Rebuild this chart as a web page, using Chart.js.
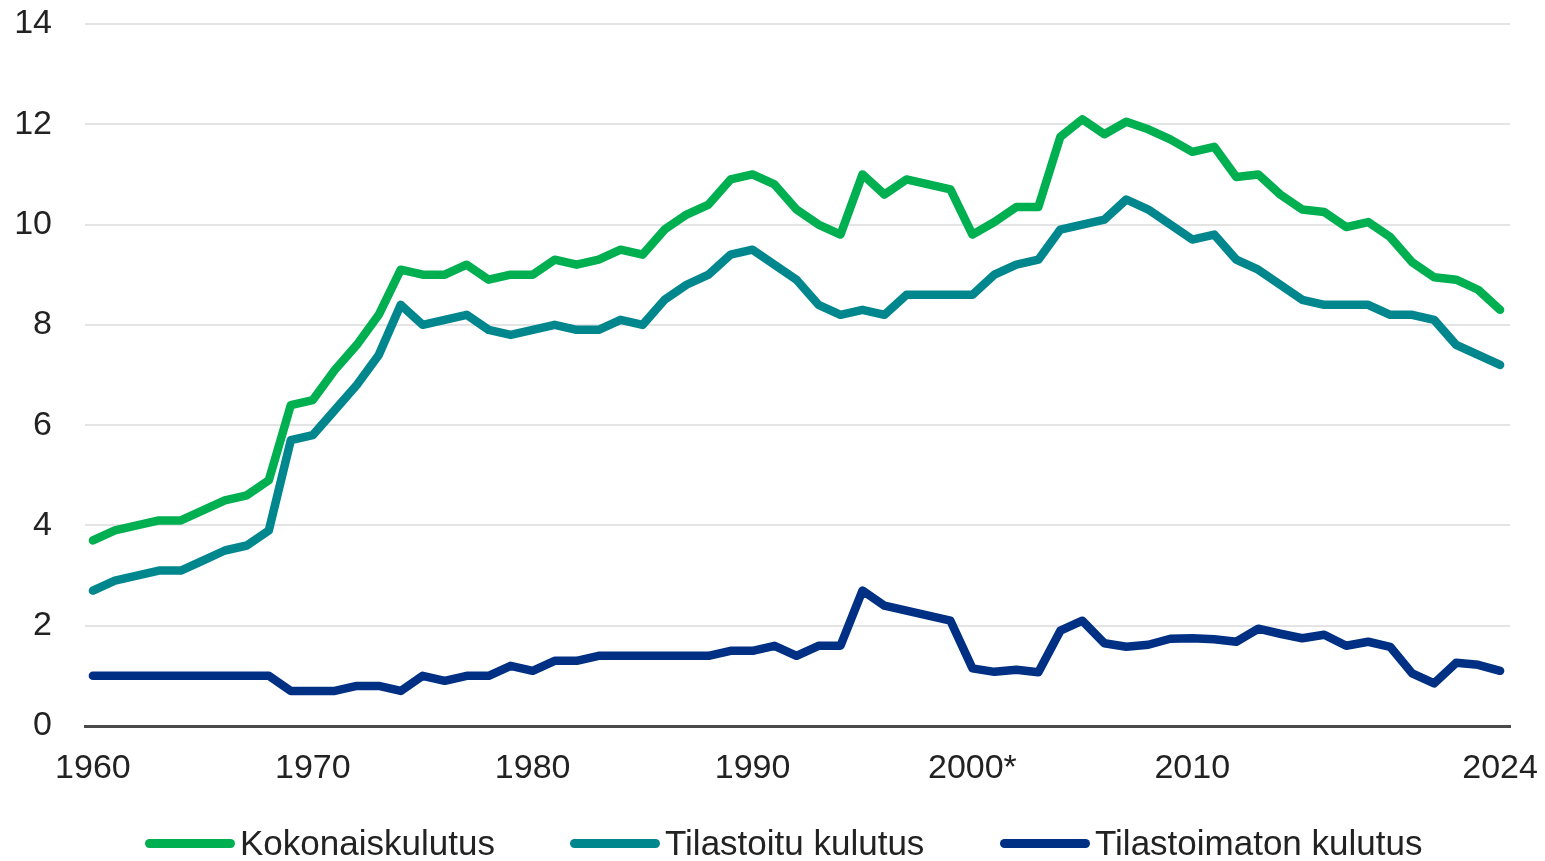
<!DOCTYPE html>
<html><head><meta charset="utf-8">
<script src="https://cdn.jsdelivr.net/npm/chart.js@4.4.1/dist/chart.umd.min.js"></script>
<style>
html,body{margin:0;padding:0;background:#fff;}
#wrap{position:relative;width:1545px;height:861px;overflow:hidden;}
canvas{position:absolute;left:0;top:0;}
.lg{position:absolute;top:822px;height:42px;display:flex;align-items:center;font-family:'Liberation Sans',Arial,sans-serif;font-size:35px;color:#222;white-space:nowrap;}
.lg i{display:inline-block;width:90px;height:9px;border-radius:5px;margin-right:5px;}
</style>
</head><body>
<div id="wrap">
<canvas id="c" width="1545" height="861"></canvas>
<div class="lg" style="left:145px"><i style="background:#00AF50"></i>Kokonaiskulutus</div>
<div class="lg" style="left:570px"><i style="background:#00878E"></i>Tilastoitu kulutus</div>
<div class="lg" style="left:1000px"><i style="background:#003084"></i>Tilastoimaton kulutus</div>
</div>
<script>
const years = [1960,1961,1962,1963,1964,1965,1966,1967,1968,1969,
1970,1971,1972,1973,1974,1975,1976,1977,1978,1979,
1980,1981,1982,1983,1984,1985,1986,1987,1988,1989,
1990,1991,1992,1993,1994,1995,1996,1997,1998,1999,
2000,2001,2002,2003,2004,2005,2006,2007,2008,2009,
2010,2011,2012,2013,2014,2015,2016,2017,2018,2019,
2020,2021,2022,2023,2024];

const kokonaiskulutus = [3.7,3.9,4.0,4.1,4.1,4.3,4.5,4.6,4.9,6.4,
6.5,7.1,7.6,8.2,9.1,9.0,9.0,9.2,8.9,9.0,
9.0,9.3,9.2,9.3,9.5,9.4,9.9,10.2,10.4,10.9,
11.0,10.8,10.3,10.0,9.8,11.0,10.6,10.9,10.8,10.7,
9.8,10.05,10.35,10.35,11.75,12.1,11.8,12.05,11.9,11.7,
11.45,11.55,10.95,11.0,10.6,10.3,10.25,9.95,10.05,9.75,
9.25,8.95,8.9,8.7,8.3];

const tilastoitu = [2.7,2.9,3.0,3.1,3.1,3.3,3.5,3.6,3.9,5.7,
5.8,6.3,6.8,7.4,8.4,8.0,8.1,8.2,7.9,7.8,
7.9,8.0,7.9,7.9,8.1,8.0,8.5,8.8,9.0,9.4,
9.5,9.2,8.9,8.4,8.2,8.3,8.2,8.6,8.6,8.6,
8.6,9.0,9.2,9.3,9.9,10.0,10.1,10.5,10.3,10.0,
9.7,9.8,9.3,9.1,8.8,8.5,8.4,8.4,8.4,8.2,
8.2,8.1,7.6,7.4,7.2];

const tilastoimaton = [1.0,1.0,1.0,1.0,1.0,1.0,1.0,1.0,1.0,0.7,
0.7,0.7,0.8,0.8,0.7,1.0,0.9,1.0,1.0,1.2,
1.1,1.3,1.3,1.4,1.4,1.4,1.4,1.4,1.4,1.5,
1.5,1.6,1.4,1.6,1.6,2.7,2.4,2.3,2.2,2.1,
1.15,1.08,1.12,1.07,1.9,2.1,1.65,1.58,1.62,1.74,
1.75,1.73,1.68,1.94,1.84,1.75,1.82,1.6,1.68,1.58,
1.05,0.85,1.26,1.22,1.1];

const xTickYears = [1960,1970,1980,1990,2000,2010,2024];
const xTickLabels = ['1960','1970','1980','1990','2000*','2010','2024'];
const yTicks = [0,2,4,6,8,10,12,14];

const seriesNames = ['Kokonaiskulutus','Tilastoitu kulutus','Tilastoimaton kulutus'];
const seriesColors = ['#00AF50','#00878E','#003084'];
const seriesValues = [kokonaiskulutus, tilastoitu, tilastoimaton];

const FONT = "'Liberation Sans', Arial, sans-serif";

const datasets = seriesValues.map((vals, k) => ({
  label: seriesNames[k],
  data: years.map((yr, i) => ({x: yr, y: vals[i]})),
  borderColor: seriesColors[k],
  backgroundColor: seriesColors[k],
  borderWidth: 8.5,
  borderJoinStyle: 'round',
  borderCapStyle: 'round',
  pointRadius: 0,
  tension: 0,
  fill: false
}));

function zeroPad(s) { s.paddingTop = 0; s.paddingBottom = 0; s.paddingLeft = 0; s.paddingRight = 0; }

new Chart(document.getElementById('c'), {
  type: 'line',
  data: { datasets },
  options: {
    responsive: false,
    animation: false,
    devicePixelRatio: 1,
    layout: { padding: { left: 0, right: 35, top: 24, bottom: 0 } },
    plugins: { legend: { display: false }, tooltip: { enabled: false } },
    scales: {
      x: {
        type: 'linear',
        min: 1959.64,
        max: 2024.45,
        afterBuildTicks: s => { s.ticks = xTickYears.map(v => ({ value: v })); },
        afterFit: s => { s.height = 135; zeroPad(s); },
        ticks: {
          autoSkip: false,
          maxRotation: 0,
          padding: 22,
          color: '#222',
          font: { family: FONT, size: 34 },
          callback: v => { const i = xTickYears.indexOf(v); return i >= 0 ? xTickLabels[i] : ''; }
        },
        grid: { display: false, drawTicks: false },
        border: { display: true, color: '#4a4a4a', width: 3 }
      },
      y: {
        min: 0,
        max: 14,
        afterBuildTicks: s => { s.ticks = yTicks.map(v => ({ value: v })); },
        afterFit: s => { s.width = 85; zeroPad(s); },
        ticks: {
          padding: 33,
          color: '#222',
          font: { family: FONT, size: 34 }
        },
        grid: { color: '#e4e4e4', lineWidth: 2, drawTicks: false },
        border: { display: false }
      }
    }
  }
});
</script>
</body></html>
